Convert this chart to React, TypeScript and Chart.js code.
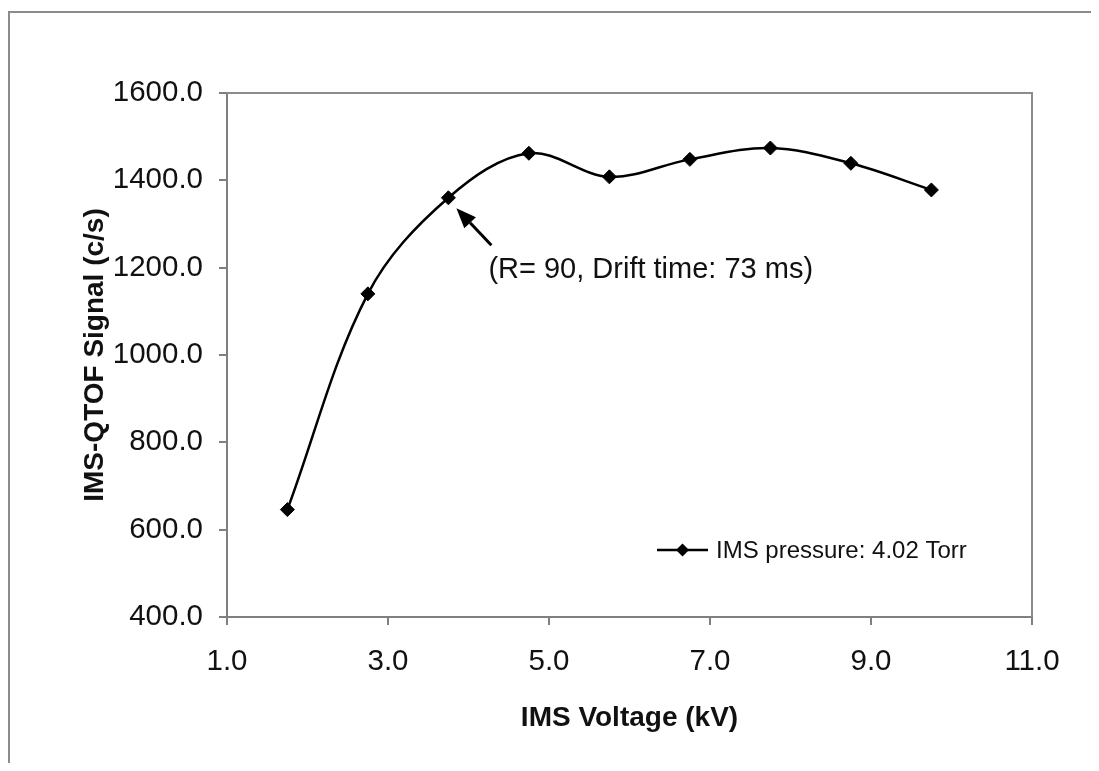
import React, { useEffect, useRef } from "react";
import { Chart, registerables } from "chart.js";

Chart.register(...registerables);

// ---- data ----
const voltages = [1.75, 2.75, 3.75, 4.75, 5.75, 6.75, 7.75, 8.75, 9.75];
const signals = [646, 1140, 1360, 1462, 1408, 1448, 1474, 1439, 1378];
const seriesLabel = "IMS pressure: 4.02 Torr";
const xTitle = "IMS Voltage (kV)";
const yTitle = "IMS-QTOF Signal (c/s)";
const annotationText = "(R= 90, Drift time: 73 ms)";
const annotatedIndex = 2;
const xRange = [1, 11];
const xStep = 2;
const yRange = [400, 1600];
const yStep = 200;

const FONT = "'Liberation Sans', Arial, Helvetica, sans-serif";

const decorPlugin = {
  id: "decor",
  afterDraw(chart: any) {
    const { ctx, chartArea, scales } = chart;
    const { left, right, top, bottom } = chartArea;
    ctx.save();
    // plot box (top / right edges)
    ctx.strokeStyle = "#8c8c8c";
    ctx.lineWidth = 2;
    ctx.beginPath();
    ctx.moveTo(left, top);
    ctx.lineTo(right, top);
    ctx.lineTo(right, bottom);
    ctx.stroke();

    // legend inside plot
    const lx = right - 375;
    const ly = bottom - 67;
    ctx.strokeStyle = "#000";
    ctx.lineWidth = 2.5;
    ctx.beginPath();
    ctx.moveTo(lx, ly);
    ctx.lineTo(lx + 51, ly);
    ctx.stroke();
    ctx.fillStyle = "#000";
    ctx.beginPath();
    const dx = lx + 25.5;
    const r = 6.5;
    ctx.moveTo(dx - r, ly);
    ctx.lineTo(dx, ly - r);
    ctx.lineTo(dx + r, ly);
    ctx.lineTo(dx, ly + r);
    ctx.closePath();
    ctx.fill();
    ctx.font = `24px ${FONT}`;
    ctx.textAlign = "left";
    ctx.textBaseline = "middle";
    ctx.fillStyle = "#111";
    ctx.fillText(seriesLabel, lx + 59, ly + 1);

    // annotation arrow + text
    const px = scales.x.getPixelForValue(voltages[annotatedIndex]);
    const py = scales.y.getPixelForValue(signals[annotatedIndex]);
    const tipX = px + 8;
    const tipY = py + 10.5;
    const tailX = px + 43;
    const tailY = py + 47.5;
    const ang = Math.atan2(tipY - tailY, tipX - tailX);
    const headLen = 20;
    const headHalf = 8;
    const bx = tipX - headLen * Math.cos(ang);
    const by = tipY - headLen * Math.sin(ang);
    ctx.strokeStyle = "#000";
    ctx.lineWidth = 3;
    ctx.beginPath();
    ctx.moveTo(tailX, tailY);
    ctx.lineTo(bx, by);
    ctx.stroke();
    ctx.fillStyle = "#000";
    ctx.beginPath();
    ctx.moveTo(tipX, tipY);
    ctx.lineTo(bx + headHalf * Math.sin(ang), by - headHalf * Math.cos(ang));
    ctx.lineTo(bx - headHalf * Math.sin(ang), by + headHalf * Math.cos(ang));
    ctx.closePath();
    ctx.fill();

    ctx.font = `29px ${FONT}`;
    ctx.textAlign = "left";
    ctx.textBaseline = "alphabetic";
    ctx.fillStyle = "#111";
    ctx.fillText(annotationText, px + 40, py + 80);
    ctx.restore();
  },
};

export default function App() {
  const canvasRef = useRef<HTMLCanvasElement | null>(null);

  useEffect(() => {
    if (!canvasRef.current) return;
    const chart = new Chart(canvasRef.current, {
      type: "line",
      data: {
        datasets: [
          {
            label: seriesLabel,
            data: voltages.map((v, i) => ({ x: v, y: signals[i] })),
            borderColor: "#000",
            backgroundColor: "#000",
            borderWidth: 2.5,
            tension: 0.35,
            pointStyle: "rectRot",
            pointRadius: 7,
            pointBorderWidth: 1,
            pointBackgroundColor: "#000",
            pointBorderColor: "#000",
            fill: false,
          },
        ],
      },
      options: {
        animation: false,
        responsive: true,
        maintainAspectRatio: false,
        layout: { padding: { left: 0, top: 85, right: 67, bottom: 0 } },
        plugins: {
          legend: { display: false },
          tooltip: { enabled: false },
          title: { display: false },
        },
        scales: {
          x: {
            type: "linear",
            min: xRange[0],
            max: xRange[1],
            afterFit: (s: any) => {
              s.height = 146;
            },
            ticks: {
              stepSize: xStep,
              padding: 19,
              color: "#111",
              font: { family: FONT, size: 29.5 },
              callback: (v: any) => Number(v).toFixed(1),
            },
            grid: {
              drawOnChartArea: false,
              drawTicks: true,
              tickLength: 8,
              color: "#808080",
              lineWidth: 2,
            },
            border: { display: true, color: "#808080", width: 2 },
            title: {
              display: true,
              text: xTitle,
              color: "#111",
              font: { family: FONT, size: 28, weight: "bold" },
              padding: { top: 0, bottom: 28 },
            },
          },
          y: {
            type: "linear",
            min: yRange[0],
            max: yRange[1],
            afterFit: (s: any) => {
              s.width = 219;
            },
            ticks: {
              stepSize: yStep,
              padding: 16,
              color: "#111",
              font: { family: FONT, size: 29.5 },
              callback: (v: any) => Number(v).toFixed(1),
            },
            grid: {
              drawOnChartArea: false,
              drawTicks: true,
              tickLength: 8,
              color: "#808080",
              lineWidth: 2,
            },
            border: { display: true, color: "#808080", width: 2 },
            title: {
              display: true,
              text: yTitle,
              color: "#111",
              font: { family: FONT, size: 28, weight: "bold" },
              padding: { top: 70, bottom: 0 },
            },
          },
        },
      },
      plugins: [decorPlugin],
    } as any);
    return () => chart.destroy();
  }, []);

  return (
    <div style={{ position: "relative", width: 1091, height: 755, overflow: "hidden" }}>
      <div
        style={{
          position: "absolute",
          left: 0,
          top: 3,
          right: -10,
          bottom: -10,
          borderLeft: "2px solid #8c8c8c",
          borderTop: "2px solid #8c8c8c",
        }}
      />
      <div style={{ position: "absolute", left: 0, top: 0, width: 1091, height: 755 }}>
        <canvas ref={canvasRef} />
      </div>
    </div>
  );
}
